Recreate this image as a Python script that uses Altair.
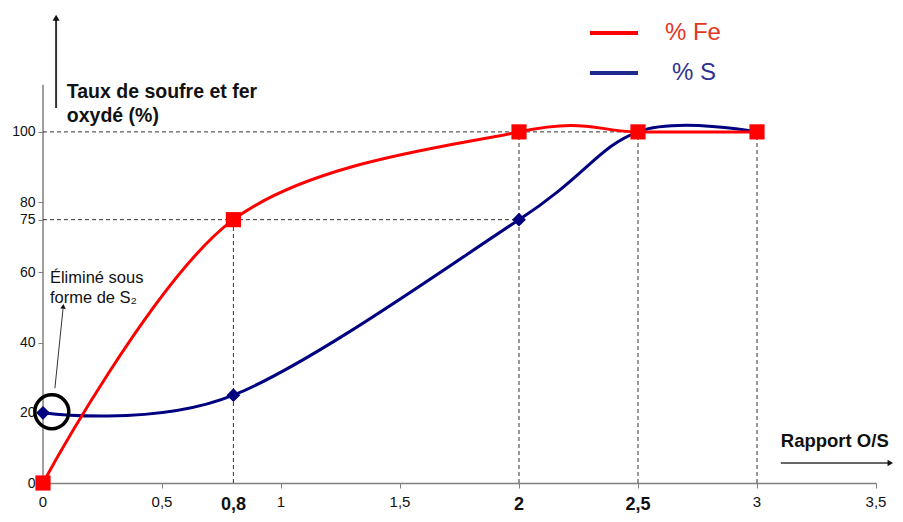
import altair as alt
import pandas as pd

# --- data ---
x_vals = [0, 0.8, 2, 2.5, 3]
fe_vals = [0, 75, 100, 100, 100]
s_vals = [20, 25, 75, 100, 100]

x_ticks = [0, 0.5, 1, 1.5, 2, 2.5, 3, 3.5]
x_labels_normal = [0, 0.5, 1, 1.5, 3, 3.5]
x_labels_normal_txt = ["0", "0,5", "1", "1,5", "3", "3,5"]
x_labels_bold = [0.8, 2, 2.5]
x_labels_bold_txt = ["0,8", "2", "2,5"]
y_ticks = [0, 20, 40, 60, 75, 80, 100]

hline_y = [100, 75]
hline_x2 = [3, 2]
vline_x = [0.8, 2, 2.5, 3]
vline_y2 = [75, 100, 100, 100]

FONT = "Liberation Sans"
RED = "#FF0000"
NAVY = "#000080"
GRAY = "#808080"

XS = alt.Scale(domain=[0, 3.5], nice=False, zero=False)
YS = alt.Scale(domain=[0, 135], nice=False, zero=False)

xaxis = alt.Axis(values=x_ticks, labels=False, title=None, grid=False,
                 domainColor=GRAY, tickColor=GRAY, tickSize=5, domainWidth=1.5)
yaxis = alt.Axis(values=y_ticks, title=None, grid=False, domain=False,
                 tickColor=GRAY, tickSize=5, labelFontSize=14, labelFont=FONT,
                 labelColor="#111111", labelPadding=3)


def X(f="x"):
    return alt.X(f"{f}:Q", scale=XS, axis=xaxis)


def Y(f="y"):
    return alt.Y(f"{f}:Q", scale=YS, axis=yaxis)


df = pd.DataFrame({"x": x_vals, "fe": fe_vals, "s": s_vals})

# y axis line (up to top of scale region)
yline = alt.Chart(pd.DataFrame({"x": [0], "y": [0], "y2": [113.4]})).mark_rule(
    color=GRAY, strokeWidth=1.5).encode(x=X(), y=Y(), y2="y2:Q")

hl = alt.Chart(pd.DataFrame({"x": [0] * len(hline_y), "x2": hline_x2, "y": hline_y})).mark_rule(
    color="#333333", strokeDash=[4, 3], strokeWidth=1).encode(x=X(), x2="x2:Q", y=Y())
vl = alt.Chart(pd.DataFrame({"x": vline_x, "y": [0] * len(vline_x), "y2": vline_y2})).mark_rule(
    color="#333333", strokeDash=[4, 3], strokeWidth=1).encode(x=X(), y=Y(), y2="y2:Q")

s_line = alt.Chart(df).mark_line(color=NAVY, strokeWidth=3, interpolate="cardinal").encode(x=X(), y=Y("s"))
fe_line = alt.Chart(df).mark_line(color=RED, strokeWidth=3, interpolate="cardinal").encode(x=X(), y=Y("fe"))
s_pts = alt.Chart(df).mark_point(shape="diamond", filled=True, size=190, color=NAVY, opacity=1).encode(
    x=X(), y=Y("s"))
fe_pts = alt.Chart(df).mark_point(shape="square", filled=True, size=230, color=RED, opacity=1).encode(
    x=X(), y=Y("fe"))

# x labels
xl_norm = alt.Chart(pd.DataFrame({"x": x_labels_normal, "t": x_labels_normal_txt, "y": [-6.9] * 6})).mark_text(
    font=FONT, fontSize=15, color="#111111", baseline="alphabetic").encode(x=X(), y=Y(), text="t:N")
xl_bold = alt.Chart(pd.DataFrame({"x": x_labels_bold, "t": x_labels_bold_txt, "y": [-7.6] * 3})).mark_text(
    font=FONT, fontSize=18, fontWeight="bold", color="#111111", baseline="alphabetic").encode(x=X(), y=Y(), text="t:N")

# y title + arrow
ytitle = alt.Chart(pd.DataFrame({"x": [0.1, 0.1], "y": [111.3, 104.4],
                                 "t": ["Taux de soufre et fer", "oxydé (%)"]})).mark_text(
    font=FONT, fontSize=19.5, fontWeight="bold", align="left", baseline="middle", color="#111111").encode(
    x=X(), y=Y(), text="t:N")
yarrow = alt.Chart(pd.DataFrame({"x": [0.055], "y": [106.8], "y2": [132.5]})).mark_rule(
    color="#333333", strokeWidth=2).encode(x=X(), y=Y(), y2="y2:Q")
yarrow_head = alt.Chart(pd.DataFrame({"x": [0.055], "y": [132.5]})).mark_point(
    shape="triangle-up", filled=True, size=50, color="#111111", opacity=1).encode(x=X(), y=Y())

# x title + arrow
xtitle = alt.Chart(pd.DataFrame({"x": [3.1], "y": [12.0], "t": ["Rapport O/S"]})).mark_text(
    font=FONT, fontSize=18.5, fontWeight="bold", align="left", baseline="middle", color="#111111").encode(
    x=X(), y=Y(), text="t:N")
xarrow = alt.Chart(pd.DataFrame({"x": [3.1], "x2": [3.555], "y": [5.7]})).mark_rule(
    color="#333333", strokeWidth=1.5).encode(x=X(), x2="x2:Q", y=Y())
xarrow_head = alt.Chart(pd.DataFrame({"x": [3.56], "y": [5.7]})).mark_point(
    shape="triangle-right", filled=True, size=40, color="#111111", opacity=1).encode(x=X(), y=Y())

# annotation circle + text + arrow
circ = alt.Chart(pd.DataFrame({"x": [0.037], "y": [20.3]})).mark_point(
    shape="circle", filled=False, size=1150, stroke="#000000", strokeWidth=3.5, opacity=1).encode(x=X(), y=Y())
ann = alt.Chart(pd.DataFrame({"x": [0.029, 0.029], "y": [58.4, 52.8],
                              "t": ["Éliminé sous", "forme de S₂"]})).mark_text(
    font=FONT, fontSize=16.5, align="left", baseline="middle", color="#111111").encode(x=X(), y=Y(), text="t:N")
ann_arrow = alt.Chart(pd.DataFrame({"x": [0.05], "y": [27.0], "x2": [0.084], "y2": [49.5]})).mark_rule(
    color="#333333", strokeWidth=1).encode(x=X(), y=Y(), x2="x2:Q", y2="y2:Q")
ann_head = alt.Chart(pd.DataFrame({"x": [0.085], "y": [50.3]})).mark_point(
    shape="triangle-up", filled=True, size=30, angle=6, color="#111111", opacity=1).encode(x=X(), y=Y())

# legend
leg_lines = alt.Chart(pd.DataFrame({"x": [2.298, 2.298], "x2": [2.5, 2.5], "y": [128.2, 116.8],
                                    "c": ["Fe", "S"]})).mark_rule(strokeWidth=4).encode(
    x=X(), x2="x2:Q", y=Y(),
    color=alt.Color("c:N", scale=alt.Scale(domain=["Fe", "S"], range=[RED, "#1F2A8F"]), legend=None))
leg_fe = alt.Chart(pd.DataFrame({"x": [2.613], "y": [128.2], "t": ["% Fe"]})).mark_text(
    font=FONT, fontSize=24, align="left", baseline="middle", color="#E2361F").encode(x=X(), y=Y(), text="t:N")
leg_s = alt.Chart(pd.DataFrame({"x": [2.643], "y": [116.8], "t": ["% S"]})).mark_text(
    font=FONT, fontSize=24, align="left", baseline="middle", color="#2E3192").encode(x=X(), y=Y(), text="t:N")

chart = alt.layer(
    yline, hl, vl, s_line, fe_line, s_pts, fe_pts, xl_norm, xl_bold,
    ytitle, yarrow, yarrow_head, xtitle, xarrow, xarrow_head,
    circ, ann, ann_arrow, ann_head, leg_lines, leg_fe, leg_s
).properties(
    width=833, height=474,
    background="white",
    autosize=alt.AutoSizeParams(type="none"),
    padding={"left": 35, "top": 1, "right": 19, "bottom": 31},
).configure_view(stroke=None)

chart.save("out.html", embed_options={"renderer": "svg", "actions": False})
